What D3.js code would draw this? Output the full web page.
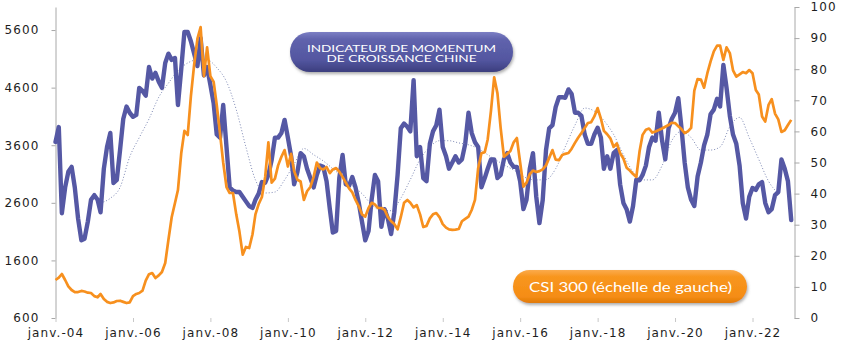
<!DOCTYPE html>
<html>
<head>
<meta charset="utf-8">
<script src="https://cdn.jsdelivr.net/npm/d3@7"></script>
<style>
  body { margin: 0; background: #fff; }
  svg { display: block; }
</style>
</head>
<body>
<svg id="chart" width="841" height="341"></svg>
<script>
// Monthly series, first month = January 2004
const startYear = 2004;

// China growth momentum indicator (right axis, 0-100)
const momentum = [
  56.6, 61.4, 33.7, 42, 47, 48.6, 42, 32, 25, 25.5,
  31, 38, 39.5, 38, 34, 48, 55, 59.5, 43.4, 44.4,
  54, 64, 68, 66, 64.7, 65.3, 74, 73, 71.5, 80.7,
  77, 78.8, 76, 74, 82, 85, 83, 83.6, 68.5, 80,
  92, 92, 89, 85, 81, 90, 78, 80.7, 75, 69,
  59, 58, 68.5, 55, 42, 41, 40.5, 40.5, 39, 37.5,
  36, 35.4, 38, 40, 43.7, 43.5, 46, 50.8, 58, 58,
  59.5, 63.7, 58, 52, 43, 47, 53, 52, 48, 45,
  42, 46, 49, 48.6, 44, 35, 27.5, 28, 45, 52.4,
  43, 42.5, 45.3, 42, 37, 31, 25, 28, 38, 46,
  44, 29.3, 35, 32, 27, 34, 46, 61, 62.5, 61.5,
  60, 76.5, 52, 55, 45, 44, 56, 60, 62, 67,
  55, 52, 48, 50, 52, 50, 51, 56, 66, 59.5,
  56.5, 55, 42, 45, 48, 51, 51, 45, 46, 51,
  53, 50, 48.6, 48.6, 44, 35, 38, 48, 53, 39,
  30.5, 38, 54, 61, 62, 67.8, 71, 71, 70.8, 73.5,
  72, 66, 66, 65, 59, 56, 56, 59, 61.2, 58,
  48, 52, 48, 53, 54, 43, 37, 35, 31, 36,
  44.5, 44.3, 46, 49, 55, 58, 57, 66, 57, 51,
  61, 64, 66, 70.7, 61.4, 50, 42, 38, 36, 45.5,
  50, 55.5, 59, 65.5, 67, 70.5, 68, 81.4, 74, 65,
  59, 56, 49, 37, 32, 39, 41.8, 41.2, 43, 43.7,
  37, 34, 35, 39.5, 40.5, 51, 48, 44, 31.5
];

// CSI 300 index (left axis)
const csi300 = [
  1260, 1300, 1364, 1260, 1150, 1086, 1051, 1051, 1070, 1060,
  1040, 1034, 980, 960, 1017, 930, 880, 860, 870, 895,
  900, 880, 860, 870, 980, 1017, 1034, 1074, 1250, 1360,
  1381, 1294, 1340, 1399, 1555, 1954, 2350, 2596, 2822, 3460,
  3850, 3777, 4450, 5000, 5450, 5652, 4800, 5300, 4800, 4700,
  4300, 3800, 3300, 2874, 2770, 2770, 2400, 2100, 1700, 1833,
  1815, 2050, 2400, 2580, 2700, 3050, 3650, 2950, 3020, 3250,
  3400, 3516, 3230, 3450, 3150, 3000, 2970, 2650, 2800, 2874,
  3050, 3300, 3200, 3180, 3221, 3117, 3180, 3204, 3140, 3050,
  2950, 2850, 2780, 2650, 2540, 2400, 2360, 2510, 2600, 2570,
  2510, 2510, 2480, 2353, 2280, 2230, 2140, 2350, 2600, 2650,
  2600, 2520, 2560, 2400, 2180, 2200, 2330, 2400, 2423, 2353,
  2230, 2170, 2140, 2130, 2135, 2145, 2280, 2320, 2360, 2475,
  2650, 3200, 3460, 3480, 3700, 4200, 4780, 4500, 3900, 3400,
  3450, 3500, 3650, 3725, 3300, 2880, 2950, 3100, 3160, 3135,
  3150, 3180, 3250, 3380, 3516, 3350, 3340, 3430, 3450, 3464,
  3540, 3640, 3730, 3812, 3900, 3985, 4000, 4100, 4245, 4060,
  3850, 3790, 3720, 3570, 3630, 3460, 3370, 3210, 3160, 3100,
  3050, 3500, 3780, 3870, 3890, 3820, 3840, 3864, 3890, 3920,
  3950, 3990, 3985, 3930, 3880, 3812, 3840, 3900, 4550, 4750,
  4740, 4600, 4850, 5050, 5230, 5330, 5330, 5080, 5300, 5200,
  4900, 4790, 4830, 4870, 4850, 4905, 4850, 4560, 4480, 4100,
  4010, 4300, 4400, 4150, 4050, 3830, 3860, 3950, 4040
];

// Smoothed momentum trend (right axis), one value every 3 months from month 14
const trendStart = 14;
const trendStep = 3;
const momentumTrend = [
  37, 38.5, 42, 51.8, 58, 64, 71, 75.5, 79.5, 82,
  83, 83, 80.5, 76, 67, 55, 44.4, 40.2, 40.5, 44.4,
  49.5, 54.5, 52.5, 50.5, 48, 45.3, 42.5, 40, 36.5, 34.5,
  34.5, 38.5, 44.5, 51, 55, 57, 57, 56.3, 55.7, 54.5,
  52.5, 50.5, 48.7, 47, 45, 44.4, 44.5, 48, 55, 62,
  67.5, 66.5, 63.5, 59, 52.5, 47, 44.4, 44.4, 49, 57,
  60, 58, 54, 54, 55, 61.5, 64.5, 58, 51, 44, 40
];

const leftTicks = [600, 1600, 2600, 3600, 4600, 5600];
const rightTicks = [0, 10, 20, 30, 40, 50, 60, 70, 80, 90, 100];
const xTickYears = [2004, 2006, 2008, 2010, 2012, 2014, 2016, 2018, 2020, 2022];
const monthLabel = "janv.-";

const titleLines = ["INDICATEUR DE MOMENTUM", "DE CROISSANCE CHINE"];
const csiLabel = "CSI 300 (échelle de gauche)";

const BLUE = "#5558a4";
const ORANGE = "#f7901e";
const AXIS = "#a8a8a8";

const svg = d3.select("#chart");
const plot = { left: 55.5, right: 794.5, top: 7, bottom: 318 };

const monthDate = i => new Date(startYear, i, 1);
const x = d3.scaleTime().domain([monthDate(0), monthDate(229)]).range([plot.left, plot.right]);
const yL = d3.scaleLinear().domain([600, 6000]).range([plot.bottom, plot.top]);
const yR = d3.scaleLinear().domain([0, 100]).range([plot.bottom, plot.top]);

// ---- defs: gradients and shadow for the label pills
const defs = svg.append("defs");
const gBlue = defs.append("linearGradient").attr("id", "pillBlue").attr("x1", 0).attr("y1", 0).attr("x2", 0).attr("y2", 1);
[[0, "#7c7fc4"], [0.18, "#6063ad"], [0.7, "#5356a0"], [1, "#3c3e7e"]].forEach(([o, c]) =>
  gBlue.append("stop").attr("offset", o).attr("stop-color", c));
const gOr = defs.append("linearGradient").attr("id", "pillOrange").attr("x1", 0).attr("y1", 0).attr("x2", 0).attr("y2", 1);
[[0, "#fbab4c"], [0.2, "#f8961f"], [0.8, "#f58d14"], [1, "#e07a08"]].forEach(([o, c]) =>
  gOr.append("stop").attr("offset", o).attr("stop-color", c));
const sh = defs.append("filter").attr("id", "shadow").attr("x", "-10%").attr("y", "-20%").attr("width", "120%").attr("height", "160%");
sh.append("feDropShadow").attr("dx", 1).attr("dy", 2).attr("stdDeviation", 1.6)
  .attr("flood-color", "#6b6b6b").attr("flood-opacity", 0.55);

// ---- axes
const tickFont = g => g.selectAll("text")
  .attr("font-family", "'DejaVu Sans', Verdana, sans-serif")
  .attr("font-size", 12)
  .attr("letter-spacing", "1.1px")
  .attr("fill", "#1e1e1e");

const axL = svg.append("g").attr("transform", `translate(${plot.left},0)`)
  .call(d3.axisLeft(yL).tickValues(leftTicks).tickSize(4).tickSizeOuter(0).tickPadding(12).tickFormat(d3.format("d")));
axL.call(tickFont);
axL.selectAll("path,line").attr("stroke", AXIS);

const axR = svg.append("g").attr("transform", `translate(${plot.right},0)`)
  .call(d3.axisRight(yR).tickValues(rightTicks).tickSize(5).tickSizeOuter(0).tickPadding(11));
axR.call(tickFont);
axR.selectAll("path,line").attr("stroke", AXIS);

const axB = svg.append("g").attr("transform", `translate(0,${plot.bottom})`)
  .call(d3.axisBottom(x).tickValues(xTickYears.map(y => new Date(y, 0, 1))).tickSize(4).tickPadding(6.5)
    .tickFormat(d => monthLabel + String(d.getFullYear()).slice(2)));
axB.select(".domain").remove();
axB.call(tickFont);
axB.selectAll("line").attr("stroke", "#c8c8c8");

// ---- series
const trendLine = d3.line()
  .x((d, i) => x(monthDate(trendStart + i * trendStep)))
  .y(d => yR(d))
  .curve(d3.curveMonotoneX);
svg.append("path").datum(momentumTrend)
  .attr("d", trendLine)
  .attr("fill", "none").attr("stroke", "#7d88b4").attr("stroke-width", 1)
  .attr("stroke-dasharray", "1,2");

const momLine = d3.line().x((d, i) => x(monthDate(i))).y(d => yR(d));
svg.append("path").datum(momentum)
  .attr("d", momLine)
  .attr("fill", "none").attr("stroke", BLUE).attr("stroke-width", 4.4)
  .attr("stroke-linejoin", "round").attr("stroke-linecap", "round");

const csiLine = d3.line().x((d, i) => x(monthDate(i))).y(d => yL(d));
svg.append("path").datum(csi300)
  .attr("d", csiLine)
  .attr("fill", "none").attr("stroke", ORANGE).attr("stroke-width", 2.7)
  .attr("stroke-linejoin", "round");

// ---- label pills
const topPill = svg.append("g");
topPill.append("rect").attr("x", 290).attr("y", 32).attr("width", 223).attr("height", 40).attr("rx", 20)
  .attr("fill", "url(#pillBlue)").attr("filter", "url(#shadow)");
titleLines.forEach((t, i) => {
  topPill.append("text")
    .attr("x", 401.5).attr("y", 51.5 + i * 10.6)
    .attr("text-anchor", "middle")
    .attr("font-family", "Lato, 'Open Sans', sans-serif")
    .attr("font-size", 8.8)
    .attr("fill", "#fff")
    .attr("textLength", i === 0 ? 189 : 150)
    .attr("lengthAdjust", "spacingAndGlyphs")
    .text(t);
});

const csiPill = svg.append("g");
csiPill.append("rect").attr("x", 513).attr("y", 270).attr("width", 234).attr("height", 33).attr("rx", 16.5)
  .attr("fill", "url(#pillOrange)").attr("filter", "url(#shadow)");
csiPill.append("text")
  .attr("x", 529).attr("y", 292)
  .attr("font-family", "Lato, 'Open Sans', sans-serif")
  .attr("font-size", 14)
  .attr("fill", "#fff")
  .attr("textLength", 203)
  .attr("lengthAdjust", "spacingAndGlyphs")
  .text(csiLabel);
</script>
</body>
</html>
